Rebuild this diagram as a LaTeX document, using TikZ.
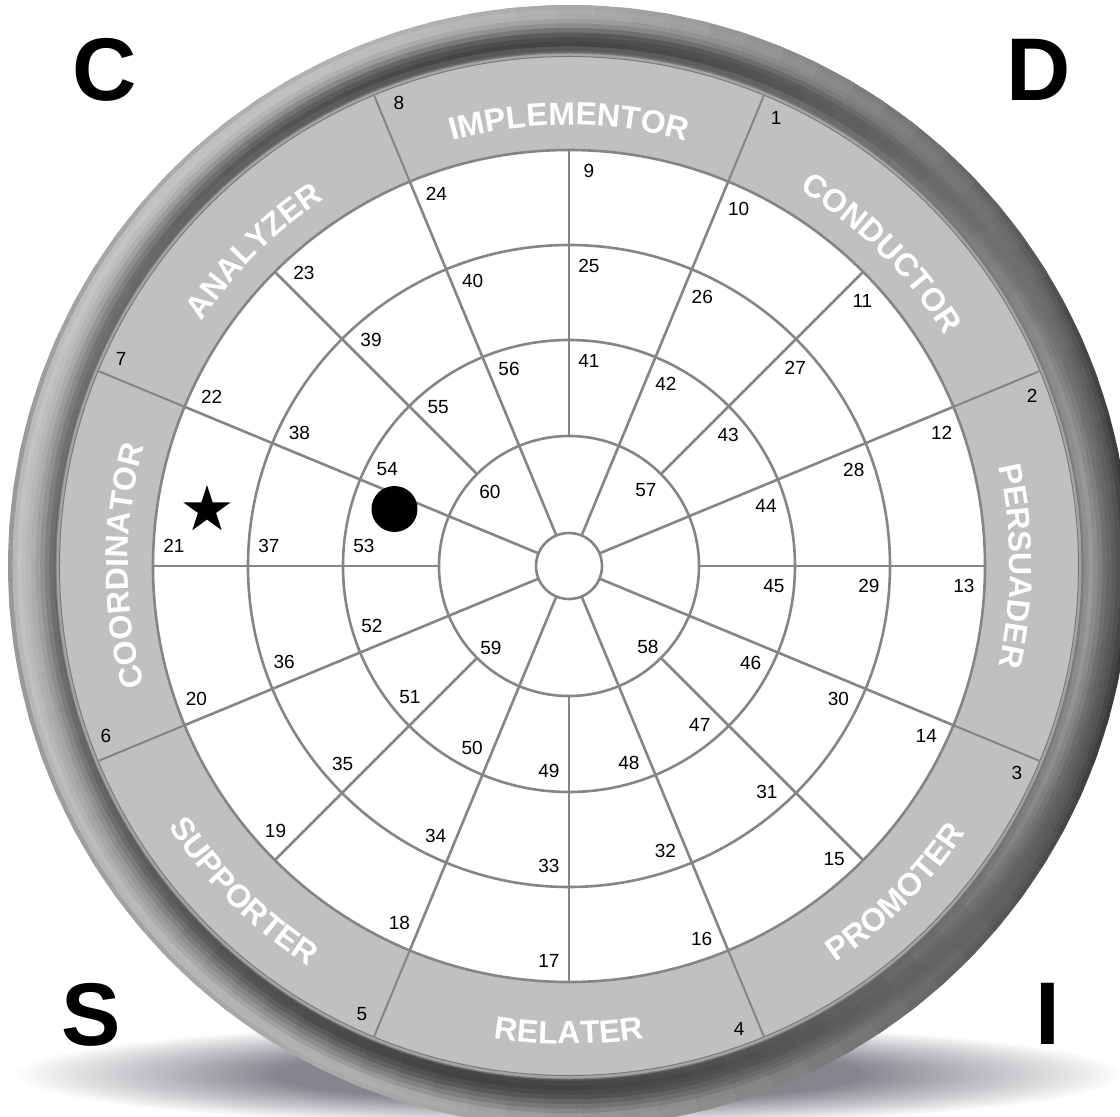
\documentclass[tikz,border=0pt]{standalone}
\usepackage{fontspec}
\setmainfont{Liberation Sans}
\usetikzlibrary{calc,decorations.text,fadings}

\definecolor{linegray}{HTML}{858585}
\definecolor{bandgray}{HTML}{C0C0C0}
\definecolor{rimgray}{HTML}{A4A4A4}
\definecolor{rimline}{HTML}{7A7A7A}
\definecolor{shadowgray}{HTML}{85858E}

\pgfdeclareradialshading{softshadowshade}{\pgfpointorigin}{color(0bp)=(white); color(13bp)=(white); color(25bp)=(black); color(50bp)=(black)}
\pgfdeclarefading{softshadow}{\pgfuseshading{softshadowshade}}

\newcommand\bandfont{\color{white}\bfseries\fontsize{32}{36}\selectfont}

\begin{document}
\begin{tikzpicture}[x=1pt,y=1pt,
  wheelline/.style={draw=linegray, line width=2.6},
  bandline/.style={draw=linegray, line width=2},
  numtext/.style={font=\fontsize{19}{19}\selectfont, inner sep=0, text=black},
  corner/.style={font=\bfseries\fontsize{89}{89}\selectfont, inner sep=0, text=black},
  bandtext/.style={decorate, decoration={text along path, text={|\bandfont|#1}, text align=center}}
]
\useasboundingbox (-569,-551) rectangle (551,566);

% shadow
\fill[shadowgray, path fading=softshadow] (0,-508) ellipse (555 and 52);

% bezel: rings (outer to inner), grey at left / right / top / bottom
\foreach \r/\vl/\vr/\vt/\vb in {561/.60/.22/.66/.62, 556.4/.72/.27/.68/.62, 551.8/.76/.32/.67/.60, 547.2/.74/.36/.62/.53, 542.6/.71/.40/.55/.46, 538/.68/.44/.45/.40, 533.4/.63/.50/.35/.33, 528.8/.57/.55/.30/.29, 524.2/.50/.60/.27/.26, 519.6/.44/.56/.35/.28, 515/.40/.50/.40/.32}{
  \pgfmathsetmacro\cA{(\vl+\vr+\vt+\vb)/4}
  \pgfmathsetmacro\cC{(\vl+\vr-\vt-\vb)/4}
  \pgfmathsetmacro\cX{(\vr-\vl)/2}
  \pgfmathsetmacro\cY{(\vt-\vb)/2}
  \foreach \a in {0,4,...,356}{
    \pgfmathsetmacro\g{max(0,min(1,\cA+\cX*cos(\a+2)+\cY*sin(\a+2)+\cC*cos(2*\a+4)))}
    \definecolor{wc}{gray}{\g}
    \fill[wc] (0,0) -- (\a-0.6:\r) arc[start angle=\a-0.6, end angle=\a+4.6, radius=\r] -- cycle;
  }
}

% band
\filldraw[fill=rimgray, draw=rimline, line width=1] (0,0) circle (513);
\filldraw[fill=bandgray, draw=rimline, line width=1] (0,0) circle (509.5);
\foreach \k in {0,...,7}{
  \pgfmathsetmacro\th{22.5+45*\k}
  \draw[bandline] (\th:416) -- (\th:509);
}

% white disc and rings
\filldraw[fill=white, wheelline] (0,0) circle (416);
\draw[wheelline] (0,0) circle (321);
\draw[wheelline] (0,0) circle (226);
\draw[wheelline] (0,0) circle (130);

% spokes
\foreach \i in {0,...,15}{
  \pgfmathsetmacro\th{90-22.5*\i}
  \ifodd\i
    \draw[wheelline] (\th:33) -- (\th:416);
  \else
    \draw[wheelline] (\th:130) -- (\th:416);
  \fi
}
\filldraw[fill=white, wheelline] (0,0) circle (33);

% numbers in the white rings
\foreach \i in {0,...,15}{
  \pgfmathsetmacro\th{90-22.5*\i}
  \pgfmathtruncatemacro\na{9+\i}
  \pgfmathtruncatemacro\nb{25+\i}
  \pgfmathtruncatemacro\nc{41+\i}
  \node[numtext] (n\na) at ($(\th:395)+(\th-90:20)$) {\na};
  \node[numtext] (n\nb) at ($(\th:300)+(\th-90:20)$) {\nb};
  \node[numtext] (n\nc) at ($(\th:205)+(\th-90:20)$) {\nc};
}
\node[numtext] (n57) at (77,76) {57};
\node[numtext] (n58) at (79,-81) {58};
\node[numtext] (n59) at (-78,-82) {59};
\node[numtext] (n60) at (-79,74) {60};

% numbers in the band
\foreach \n in {1,...,8}{
  \pgfmathsetmacro\th{67.5-45*(\n-1)}
  \node[numtext] (b\n) at ($(\th:493)+(\th-90:20)$) {\n};
}

% band labels
\path[bandtext=ANALYZER] (157.5:441) arc[start angle=157.5, end angle=112.5, radius=441];
\path[bandtext=IMPLEMENTOR] (112.5:441) arc[start angle=112.5, end angle=67.5, radius=441];
\path[bandtext=CONDUCTOR] (67.5:441) arc[start angle=67.5, end angle=22.5, radius=441];
\path[bandtext=PERSUADER] (22.5:441) arc[start angle=22.5, end angle=-22.5, radius=441];
\path[bandtext=COORDINATOR] (202.5:441) arc[start angle=202.5, end angle=157.5, radius=441];
\path[bandtext=PROMOTER] (-67.5:478) arc[start angle=-67.5, end angle=-22.5, radius=478];
\path[bandtext=RELATER] (-112.5:478) arc[start angle=-112.5, end angle=-67.5, radius=478];
\path[bandtext=SUPPORTER] (-157.5:478) arc[start angle=-157.5, end angle=-112.5, radius=478];

% markers
\fill[shift={(-362,56)}] (90:25) -- (126:9.55) -- (162:25) -- (198:9.55) -- (234:25) -- (270:9.55) -- (306:25) -- (342:9.55) -- (18:25) -- (54:9.55) -- cycle;
\node[circle, fill=black, inner sep=0, minimum size=46] (dot) at (-174.5,57) {};

% corner letters
\node[corner] (C) at (-464.5,496) {C};
\node[corner] (D) at (470,496) {D};
\node[corner] (S) at (-478,-448.5) {S};
\node[corner] (I) at (478.5,-448) {I};
\end{tikzpicture}
\end{document}
